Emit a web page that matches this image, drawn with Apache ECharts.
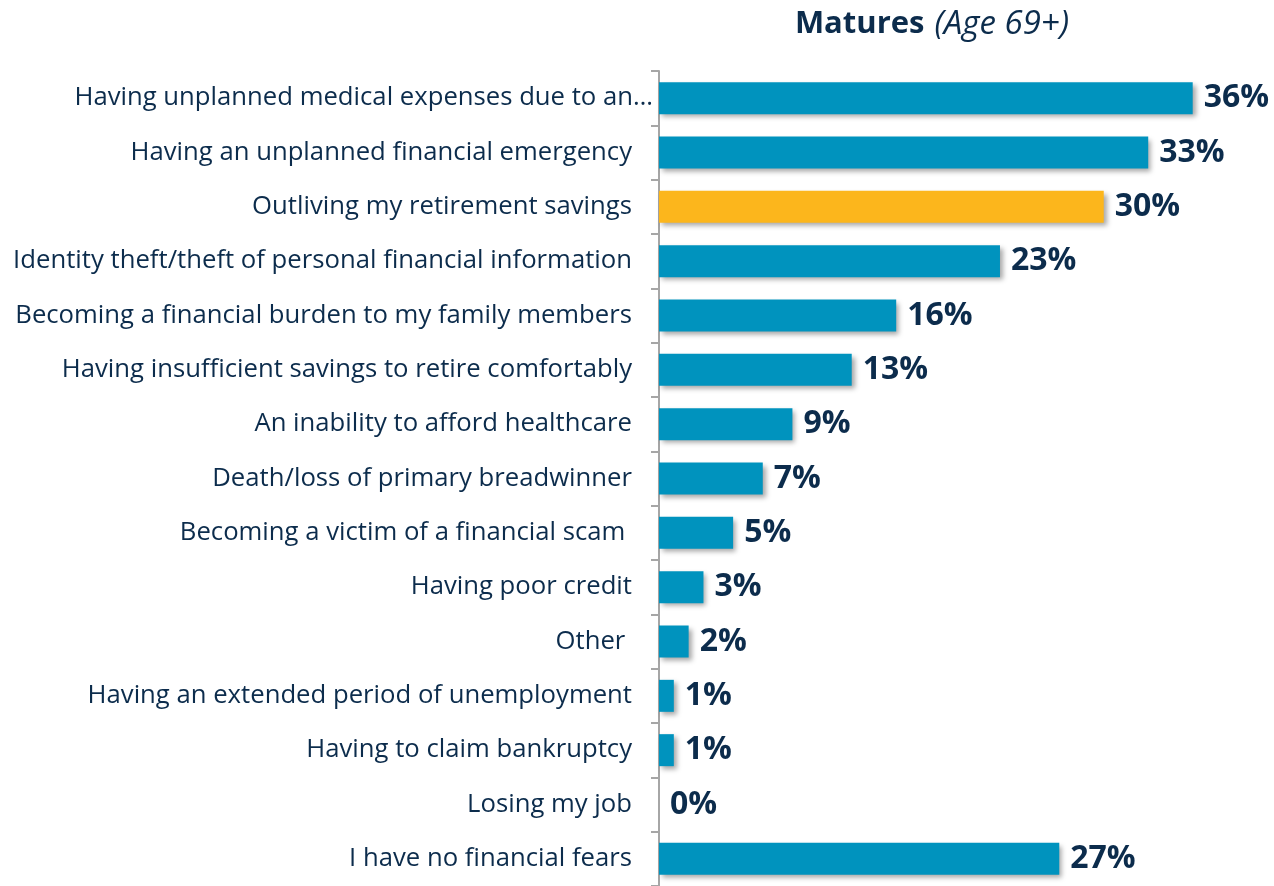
<!DOCTYPE html>
<html>
<head>
<meta charset="utf-8">
<script src="https://cdn.jsdelivr.net/npm/echarts@6/dist/echarts.min.js"></script>
<style>
  html, body { margin: 0; padding: 0; background: #fff; }
  #box { width: 1274px; height: 886px; }
</style>
</head>
<body>
<div id="box"></div>
<script>
// 类别（从上到下）
const categories = [
  'Having unplanned medical expenses due to an…',
  'Having an unplanned financial emergency',
  'Outliving my retirement savings',
  'Identity theft/theft of personal financial information',
  'Becoming a financial burden to my family members',
  'Having insufficient savings to retire comfortably',
  'An inability to afford healthcare',
  'Death/loss of primary breadwinner',
  'Becoming a victim of a financial scam ',
  'Having poor credit',
  'Other ',
  'Having an extended period of unemployment',
  'Having to claim bankruptcy',
  'Losing my job',
  'I have no financial fears'
]
const values = [36, 33, 30, 23, 16, 13, 9, 7, 5, 3, 2, 1, 1, 0, 27]
// 高亮的那一项
const highlightIndex = 2

const blue = '#0093be'
const orange = '#fcb61c'
const navy = '#0c2c4c'
const font = '"Open Sans"'

let myeCharts = echarts.init(document.getElementById('box'))
const option = {
  animation: false,
  title: {
    text: '{b|Matures}  {i|(Age 69+)}',
    left: 927,
    textAlign: 'center',
    top: 3,
    textStyle: {
      rich: {
        b: { fontFamily: font, fontWeight: 'bold', fontSize: 31, color: navy },
        i: { fontFamily: font, fontStyle: 'italic', fontWeight: 'normal', fontSize: 33, color: navy }
      }
    }
  },
  grid: {
    left: 659,
    right: 22,
    top: 71,
    height: 817
  },
  xAxis: {
    type: 'value',
    min: 0,
    max: 40,
    show: false
  },
  yAxis: {
    type: 'category',
    inverse: true,
    // 第一项被截断的标签在原图里越过了刻度
    data: categories.map((c, i) => i === 0 ? { value: c, textStyle: { padding: [0, -21, 0, 0] } } : c),
    axisLine: { show: true, lineStyle: { color: '#a6a6a6', width: 2 } },
    axisTick: { show: true, length: 8, lineStyle: { color: '#a6a6a6', width: 2 } },
    axisLabel: {
      margin: 27,
      fontFamily: font,
      fontSize: 25.7,
      color: navy
    }
  },
  series: [
    {
      type: 'bar',
      barWidth: 32,
      data: values.map((v, i) => ({
        value: v,
        itemStyle: { color: i === highlightIndex ? orange : blue }
      })),
      itemStyle: {
        shadowColor: 'rgba(0,0,0,0.35)',
        shadowBlur: 5,
        shadowOffsetX: 3,
        shadowOffsetY: 3
      },
      label: {
        show: true,
        position: 'right',
        distance: 11,
        formatter: '{c}%',
        fontFamily: font,
        fontWeight: 'bold',
        fontSize: 32,
        color: navy
      }
    }
  ]
}
myeCharts.setOption(option)
</script>
</body>
</html>
